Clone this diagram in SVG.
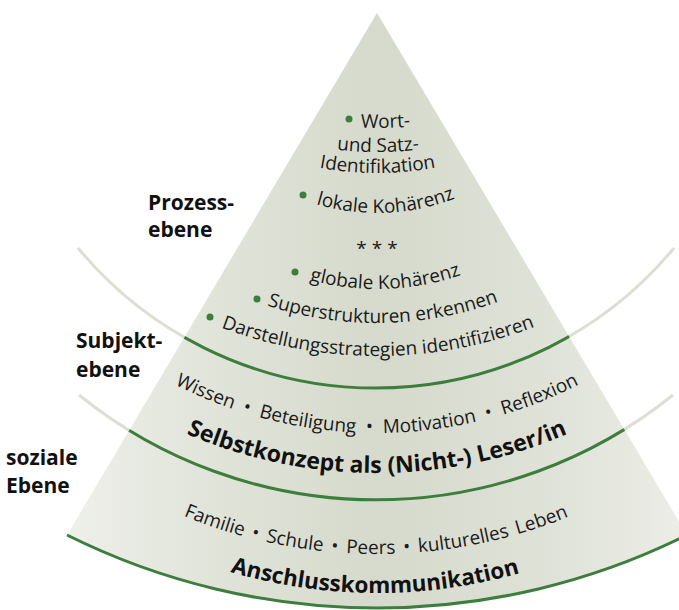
<svg xmlns="http://www.w3.org/2000/svg" xmlns:xlink="http://www.w3.org/1999/xlink" width="679" height="610" viewBox="0 0 679 610">
<style>
.t{font-family:"Open Sans","Noto Sans",sans-serif;font-size:19px;fill:#1a1a1a}
.b{font-family:"Open Sans","Noto Sans",sans-serif;font-weight:bold;fill:#111}
.lab{font-family:"Open Sans","Noto Sans",sans-serif;font-weight:bold;font-size:21px;fill:#111}
.gray{fill:none;stroke:#dcdfd3;stroke-width:3}
.green{fill:none;stroke:#3d7d3d;stroke-width:3}
.dot{fill:#3d7d3d}
</style>
<defs>
<linearGradient id="fillg" gradientUnits="userSpaceOnUse" x1="67" y1="0" x2="687" y2="0">
<stop offset="0" stop-color="#eef0ea"/>
<stop offset="0.25" stop-color="#e0e3d8"/>
<stop offset="0.5" stop-color="#d6dacc"/>
<stop offset="0.75" stop-color="#dee1d6"/>
<stop offset="1" stop-color="#eceee7"/>
</linearGradient>
<clipPath id="pyr">
<path d="M377,13 L67,535 A695,695 0 0 0 687,535 Z"/>
</clipPath>
<path id="p1" d="M277,115.3 A400,400 0 0 0 477,115.3"/>
<path id="p2" d="M257,130.8 A350,350 0 0 0 497,130.8"/>
<path id="p3" d="M237,140.75 A320,320 0 0 0 517,140.75"/>
<path id="p4" d="M227,152.03 A215,215 0 0 0 527,152.03"/>
<path id="p6" d="M217,233.94 A260,260 0 0 0 537,233.94"/>
<path id="p7" d="M177,261.3 A355,355 0 0 0 577,261.3"/>
<path id="p8" d="M147,291.1 A440,440 0 0 0 607,291.1"/>
<path id="p9" d="M137,362.7 A445,445 0 0 0 617,362.7"/>
<path id="p10" d="M137,409.2 A483,483 0 0 0 617,409.2"/>
<path id="p11" d="M137,494 A510,510 0 0 0 617,494"/>
<path id="p12" d="M177,553 A520,520 0 0 0 577,553"/>
</defs>

<g id="pyramid">
<path d="M377,13 L67,535 A695,695 0 0 0 687,535 Z" fill="url(#fillg)"/>
</g>

<g id="connectors">
<path class="gray" d="M78,248 A387,387 0 0 0 674,248"/>
<path class="gray" d="M79,395 A473,473 0 0 0 673,395"/>
<g clip-path="url(#pyr)">
<path class="green" d="M78,248 A387,387 0 0 0 674,248"/>
<path class="green" d="M79,395 A473,473 0 0 0 673,395"/>
</g>
<path class="green" d="M67,535 A695,695 0 0 0 687,535"/>
</g>

<g id="prozessebene">
<circle class="dot" cx="349" cy="119" r="3.5"/>
<text class="t"><textPath xlink:href="#p1" startOffset="109.6" text-anchor="middle">Wort-</textPath></text>
<text class="t"><textPath xlink:href="#p2" startOffset="123.5" text-anchor="middle">und Satz-</textPath></text>
<text class="t"><textPath xlink:href="#p3" startOffset="145.4" text-anchor="middle">Identifikation</textPath></text>
<circle class="dot" cx="303" cy="195" r="3.5"/>
<text class="t"><textPath xlink:href="#p4" startOffset="175" text-anchor="middle">lokale Kohärenz</textPath></text>
<text class="t" x="377" y="255" text-anchor="middle" font-size="17">* * *</text>
<circle class="dot" cx="295" cy="272" r="3.5"/>
<text class="t"><textPath xlink:href="#p6" startOffset="180.9" text-anchor="middle">globale Kohärenz</textPath></text>
<circle class="dot" cx="257" cy="299" r="3.5"/>
<text class="t"><textPath xlink:href="#p7" startOffset="218.5" text-anchor="middle">Superstrukturen erkennen</textPath></text>
<circle class="dot" cx="210" cy="317" r="3.5"/>
<text class="t"><textPath xlink:href="#p8" startOffset="243" text-anchor="middle">Darstellungsstrategien identifizieren</textPath></text>
</g>

<g id="subjektebene">
<text class="t" style="word-spacing:5px"><textPath xlink:href="#p9" startOffset="253.5" text-anchor="middle">Wissen • Beteiligung • Motivation • Reflexion</textPath></text>
<text class="b" font-size="23"><textPath xlink:href="#p10" startOffset="251.2" text-anchor="middle">Selbstkonzept als (Nicht-) Leser/in</textPath></text>
</g>

<g id="sozialeebene">
<text class="t" style="word-spacing:3px"><textPath xlink:href="#p11" startOffset="248.9" text-anchor="middle">Familie • Schule • Peers • kulturelles Leben</textPath></text>
<text class="b" font-size="22.5"><textPath xlink:href="#p12" startOffset="203.3" text-anchor="middle">Anschlusskommunikation</textPath></text>
</g>

<g id="labels">
<text class="lab" x="148" y="210">Prozess-</text>
<text class="lab" x="148" y="237">ebene</text>
<text class="lab" x="76" y="348">Subjekt-</text>
<text class="lab" x="76" y="377">ebene</text>
<text class="lab" x="6" y="465">soziale</text>
<text class="lab" x="6" y="493">Ebene</text>
</g>
</svg>
